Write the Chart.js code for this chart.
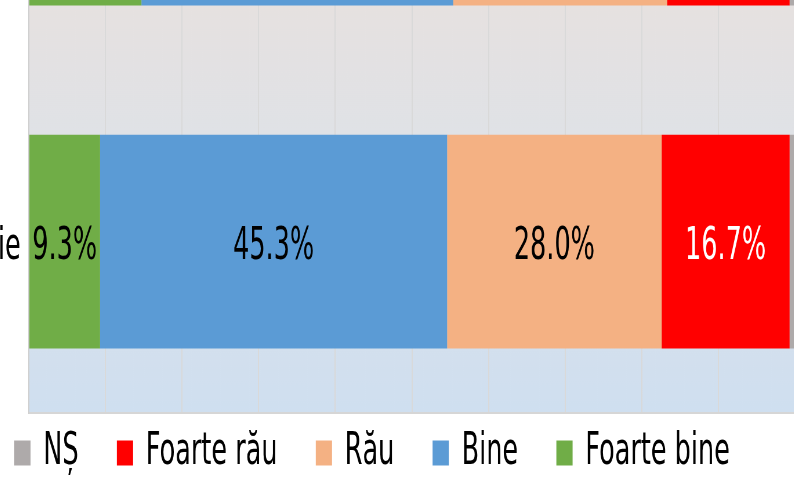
<!DOCTYPE html>
<html>
<head>
<meta charset="utf-8">
<script src="https://cdn.jsdelivr.net/npm/chart.js@4.4.1/dist/chart.umd.min.js"></script>
<style>
  html, body { margin: 0; padding: 0; background: #fff; }
  #crop { position: relative; width: 794px; height: 477px; overflow: hidden; background: #fff; }
  #stage { position: absolute; left: 0; top: 0; transform-origin: 0 0; }
</style>
</head>
<body>
<div id="crop">
  <div id="stage"><canvas id="chart"></canvas></div>
</div>
<script>
// categories (top one is cut off by the picture)
var categories = ['Ianuarie', 'Februarie'];

// series, in stacking order left -> right
var seriesNames = ['Foarte bine', 'Bine', 'Rău', 'Foarte rău', 'NȘ'];
var foarteBine = [14.7, 9.3];
var bine       = [40.7, 45.3];
var rau        = [27.9, 28.0];
var foarteRau  = [16.0, 16.7];
var ns         = [0.7, 0.7];

var seriesColors = ['#70ad47', '#5b9bd5', '#f4b183', '#ff0000', '#aeaaaa'];
var labelColors  = ['#000000', '#000000', '#000000', '#ffffff', '#000000'];

// the original is squeezed horizontally
var SX = 0.58;
var W = 1412, H = 846;
var FONT = '"DejaVu Sans", sans-serif';

var stage = document.getElementById('stage');
var canvas = document.getElementById('chart');
stage.style.width = W + 'px';
stage.style.height = H + 'px';
stage.style.transform = 'scaleX(' + SX + ')';
canvas.width = W;
canvas.height = H;
canvas.style.width = W + 'px';
canvas.style.height = H + 'px';

// plot area fill: greyish at top, light blue at bottom
var plotBackground = {
  id: 'plotBackground',
  beforeDraw: function (chart) {
    var a = chart.chartArea;
    var ctx = chart.ctx;
    var g = ctx.createLinearGradient(0, a.bottom - 410, 0, a.bottom);
    g.addColorStop(0, '#e6e1e0');
    g.addColorStop(0.31, '#e0e2e6');
    g.addColorStop(1, '#cfdff0');
    ctx.save();
    ctx.fillStyle = g;
    ctx.fillRect(a.left, a.top, a.right - a.left, a.bottom - a.top);
    ctx.restore();
  }
};

// move the legend row up close to the plot
var legendShift = {
  id: 'legendShift',
  afterLayout: function (chart) {
    var lg = chart.legend;
    var h = lg.bottom - lg.top;
    lg.top = chart.chartArea.bottom - 48;
    lg.bottom = lg.top + h;
  }
};

// percentage labels inside the segments
var segmentLabels = {
  id: 'segmentLabels',
  afterDatasetsDraw: function (chart) {
    var ctx = chart.ctx;
    ctx.save();
    ctx.font = '44px ' + FONT;
    ctx.textAlign = 'center';
    ctx.textBaseline = 'middle';
    chart.data.datasets.forEach(function (ds, i) {
      chart.getDatasetMeta(i).data.forEach(function (bar, j) {
        var v = ds.data[j];
        if (v < 3) return;
        var p = bar.getProps(['x', 'y', 'base'], true);
        ctx.fillStyle = labelColors[i];
        ctx.fillText(v.toFixed(1) + '%', (p.x + p.base) / 2, p.y + 6);
      });
    });
    ctx.restore();
  }
};

var values = [foarteBine, bine, rau, foarteRau, ns];
var datasets = seriesNames.map(function (name, i) {
  return {
    label: name,
    data: values[i],
    backgroundColor: seriesColors[i],
    borderWidth: 0,
    barPercentage: 0.623,
    categoryPercentage: 1
  };
});

var chart = new Chart(canvas.getContext('2d'), {
  type: 'bar',
  data: { labels: categories, datasets: datasets },
  options: {
    indexAxis: 'y',
    responsive: false,
    animation: false,
    devicePixelRatio: 1,
    layout: { padding: 0 },
    scales: {
      x: {
        stacked: true,
        min: 0,
        max: 100,
        ticks: { display: false, stepSize: 10 },
        grid: { color: '#d9d9d9', lineWidth: 2, drawTicks: false },
        border: { display: true, color: '#d6d6d6', width: 2 }
      },
      y: {
        stacked: true,
        afterFit: function (scale) { scale.width = 91; },
        ticks: {
          color: '#000000',
          font: { family: FONT, size: 44 },
          padding: 14,
          labelOffset: 6
        },
        grid: { display: false, drawTicks: false },
        border: { display: true, color: '#d0d0d0', width: 2 }
      }
    },
    plugins: {
      tooltip: { enabled: false },
      legend: {
        position: 'bottom',
        align: 'start',
        reverse: true,
        labels: {
          color: '#000000',
          font: { family: FONT, size: 44 },
          boxWidth: 28,
          boxHeight: 25,
          padding: 66
        }
      }
    }
  },
  plugins: [plotBackground, legendShift, segmentLabels]
});

// place the squeezed canvas so the plot lands where it does in the picture
stage.style.left = (28.5 - chart.chartArea.left * SX) + 'px';
stage.style.top = (413 - chart.chartArea.bottom) + 'px';
</script>
</body>
</html>
